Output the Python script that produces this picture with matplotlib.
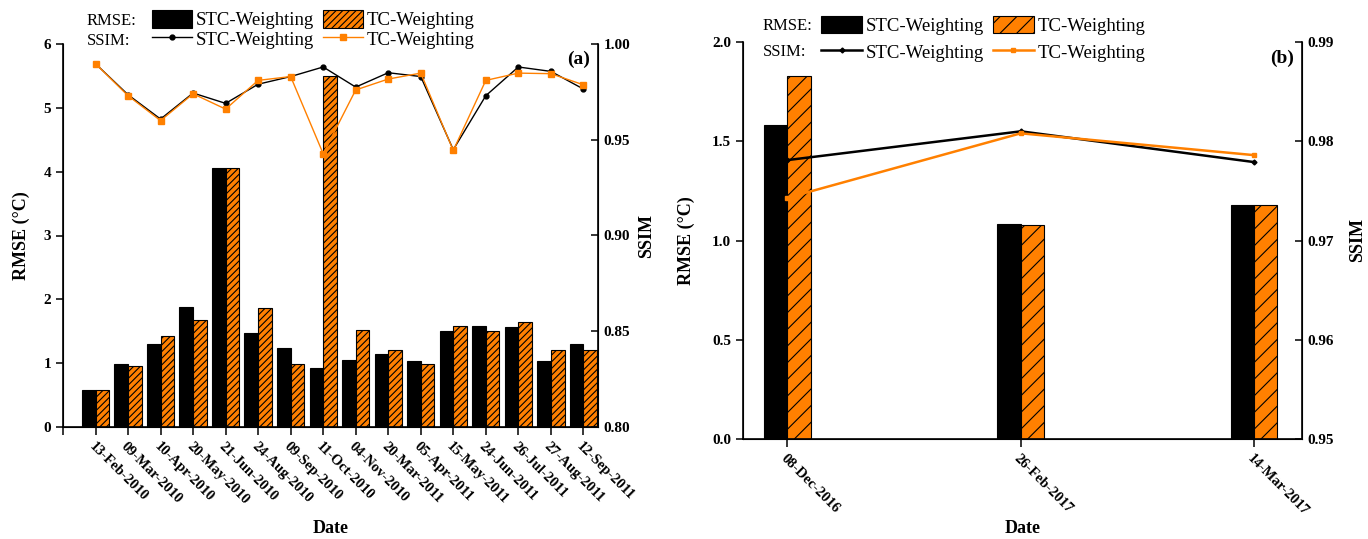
import matplotlib
matplotlib.use("Agg")
import matplotlib.pyplot as plt
import numpy as np

plt.rcParams['font.family'] = ['Liberation Serif', 'DejaVu Serif']

# ---- data, panel (a)
dates_a = ["13-Feb-2010", "09-Mar-2010", "10-Apr-2010", "20-May-2010", "21-Jun-2010",
           "24-Aug-2010", "09-Sep-2010", "11-Oct-2010", "04-Nov-2010", "20-Mar-2011",
           "05-Apr-2011", "15-May-2011", "24-Jun-2011", "26-Jul-2011", "27-Aug-2011",
           "12-Sep-2011"]
rmse_stc_a = [0.58, 0.99, 1.30, 1.88, 4.05, 1.48, 1.24, 0.92, 1.05, 1.15, 1.03, 1.50, 1.59, 1.57, 1.03, 1.30]
rmse_tc_a = [0.58, 0.96, 1.43, 1.68, 4.05, 1.87, 0.99, 5.50, 1.52, 1.21, 0.99, 1.59, 1.50, 1.65, 1.21, 1.21]
ssim_stc_a = [0.9897, 0.9735, 0.9608, 0.9744, 0.9690, 0.9790, 0.9830, 0.9880, 0.9775, 0.9850,
              0.9830, 0.9448, 0.9730, 0.9880, 0.9857, 0.9765]
ssim_tc_a = [0.9897, 0.9730, 0.9600, 0.9740, 0.9660, 0.9810, 0.9830, 0.9427, 0.9760, 0.9817,
             0.9848, 0.9444, 0.9810, 0.9848, 0.9845, 0.9787]

# ---- data, panel (b)
dates_b = ["08-Dec-2016", "26-Feb-2017", "14-Mar-2017"]
rmse_stc_b = [1.58, 1.082, 1.18]
rmse_tc_b = [1.83, 1.076, 1.18]
ssim_stc_b = [0.9781, 0.9810, 0.9779]
ssim_tc_b = [0.9743, 0.9808, 0.9786]

ORANGE = '#ff8000'
plt.rcParams['hatch.linewidth'] = 0.8

fig = plt.figure(figsize=(13.68, 5.39), dpi=100)
W, H = 1368., 539.


def box(l, r, t, b):
    return [l / W, 1 - b / H, (r - l) / W, (b - t) / H]


def style(ax, ax2):
    ax.spines['top'].set_visible(False)
    ax2.spines['top'].set_visible(False)
    for sp in ['left', 'bottom']:
        ax.spines[sp].set_linewidth(1.2)
    ax2.spines['right'].set_linewidth(1.2)
    ax.tick_params(axis='y', direction='out', length=5, width=1.1, labelsize=11)
    ax.tick_params(axis='x', direction='out', length=6, width=1.1, labelsize=10.5)
    ax2.tick_params(axis='y', direction='in', length=5, width=1.1, labelsize=11, pad=4)
    for lab in ax.get_yticklabels() + ax2.get_yticklabels() + ax.get_xticklabels():
        lab.set_fontweight('bold')
    ax.set_ylabel('RMSE (°C)', fontsize=13, fontweight='bold')
    ax2.set_ylabel('SSIM', fontsize=13, fontweight='bold', rotation=90)


# ================= panel (a)
ax = fig.add_axes(box(63, 598, 44, 427))
x = np.arange(len(dates_a))
w = 0.42
b1 = ax.bar(x - w / 2, rmse_stc_a, w, color='black', edgecolor='black', linewidth=0.8)
b2 = ax.bar(x + w / 2, rmse_tc_a, w, color=ORANGE, edgecolor='black', linewidth=0.8, hatch='/////')
ax.set_xlim(-1, 15.45)
ax.set_ylim(0, 6)
ax.set_xticks(np.arange(-1, len(dates_a)))
ax.set_xticklabels([''] + dates_a, rotation=-45, ha='left', va='top', rotation_mode='anchor')
ax.set_yticks(np.arange(0, 7, 1))
ax2 = ax.twinx()
l1, = ax2.plot(x, ssim_stc_a, color='black', lw=1.0, marker='o', ms=3.5)
l2, = ax2.plot(x, ssim_tc_a, color=ORANGE, lw=1.0, marker='s', ms=4)
ax2.set_ylim(0.80, 1.00)
ax2.set_yticks(np.arange(0.80, 1.001, 0.05))
ax2.set_yticklabels(['%.2f' % v for v in np.arange(0.80, 1.001, 0.05)])
style(ax, ax2)
ax.set_xlabel('Date', fontsize=13, fontweight='bold')
ax.xaxis.set_label_coords(0.5, -0.243)
ax.yaxis.set_label_coords(-0.062, 0.5)
ax2.yaxis.set_label_coords(1.075, 0.5)
ax2.text(0.985, 0.96, '(a)', transform=ax2.transAxes, ha='right', va='center',
         fontsize=14, fontweight='bold')

leg = ax2.legend([b1, l1, b2, l2], ['STC-Weighting', 'STC-Weighting', 'TC-Weighting', 'TC-Weighting'],
                 ncol=2, loc='upper left', bbox_to_anchor=(152 / W, 1 - 10 / H),
                 bbox_transform=fig.transFigure, frameon=False, fontsize=13.5,
                 borderpad=0, handlelength=2.15, handleheight=1.1, handletextpad=0.2,
                 labelspacing=0.0, columnspacing=0.45, borderaxespad=0)
fig.text(87 / W, 1 - 21 / H, 'RMSE:', fontsize=12, va='center')
fig.text(87 / W, 1 - 41 / H, 'SSIM:', fontsize=12, va='center')

# ================= panel (b)
axb = fig.add_axes(box(743, 1302, 42, 439))
xb = np.arange(len(dates_b))
wb = 0.1
c1 = axb.bar(xb - wb / 2, rmse_stc_b, wb, color='black', edgecolor='black', linewidth=0.8)
c2 = axb.bar(xb + wb / 2, rmse_tc_b, wb, color=ORANGE, edgecolor='black', linewidth=0.8, hatch='//')
axb.set_xlim(-0.19, 2.205)
axb.set_ylim(0, 2.0)
axb.set_xticks(xb)
axb.set_xticklabels(dates_b, rotation=-45, ha='left', va='top', rotation_mode='anchor')
axb.set_yticks(np.arange(0, 2.01, 0.5))
axb.set_yticklabels(['%.1f' % v for v in np.arange(0, 2.01, 0.5)])
axb2 = axb.twinx()
m1, = axb2.plot(xb, ssim_stc_b, color='black', lw=1.8, marker='D', ms=2.5)
m2, = axb2.plot(xb, ssim_tc_b, color=ORANGE, lw=1.8, marker='s', ms=3)
axb2.set_ylim(0.95, 0.99)
axb2.set_yticks(np.arange(0.95, 0.991, 0.01))
axb2.set_yticklabels(['%.2f' % v for v in np.arange(0.95, 0.991, 0.01)])
style(axb, axb2)
axb.set_xlabel('Date', fontsize=13, fontweight='bold')
axb.xaxis.set_label_coords(0.5, -0.205)
axb.yaxis.set_label_coords(-0.085, 0.5)
axb2.yaxis.set_label_coords(1.084, 0.5)
axb2.text(0.985, 0.96, '(b)', transform=axb2.transAxes, ha='right', va='center',
          fontsize=14, fontweight='bold')

legb = axb2.legend([c1, m1, c2, m2], ['STC-Weighting', 'STC-Weighting', 'TC-Weighting', 'TC-Weighting'],
                   ncol=2, loc='upper left', bbox_to_anchor=(821 / W, 1 - 16 / H),
                   bbox_transform=fig.transFigure, frameon=False, fontsize=13.5,
                   borderpad=0, handlelength=2.2, handleheight=1.05, handletextpad=0.2,
                   labelspacing=0.4, columnspacing=0.45, borderaxespad=0)
fig.text(763 / W, 1 - 26 / H, 'RMSE:', fontsize=12, va='center')
fig.text(763 / W, 1 - 52 / H, 'SSIM:', fontsize=12, va='center')

fig.savefig('out.png', dpi=100)
